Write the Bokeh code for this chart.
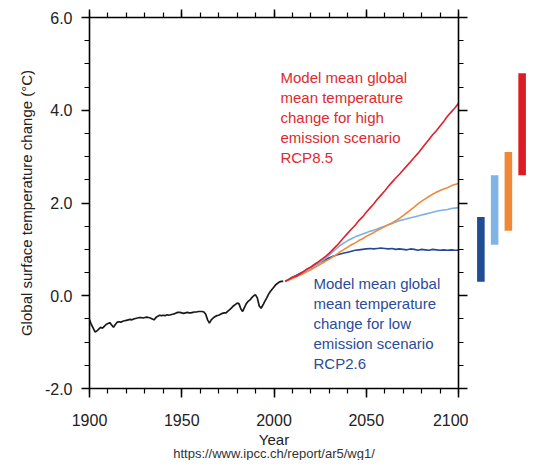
from bokeh.plotting import figure
from bokeh.models import (Range1d, FactorRange, LinearAxis, SingleIntervalTicker,
                          NumeralTickFormatter, Label, Title)
from bokeh.layouts import row
from bokeh.embed import file_html
from bokeh.resources import INLINE

# ---------------- data ----------------
hist_years = list(range(1900, 2006))
hist_temp = [
    -0.52, -0.62, -0.70, -0.78, -0.76, -0.72, -0.68, -0.70, -0.66, -0.62,
    -0.60, -0.58, -0.63, -0.68, -0.62, -0.57, -0.56, -0.57, -0.55, -0.54,
    -0.53, -0.52, -0.51, -0.52, -0.50, -0.49, -0.48, -0.47, -0.47, -0.48,
    -0.47, -0.46, -0.47, -0.48, -0.50, -0.52, -0.47, -0.44, -0.42, -0.43,
    -0.42, -0.43, -0.41, -0.42, -0.41, -0.40, -0.39, -0.37, -0.36, -0.36,
    -0.37, -0.38, -0.37, -0.36, -0.37, -0.37, -0.36, -0.35, -0.35, -0.34,
    -0.34, -0.34, -0.35, -0.40, -0.52, -0.59, -0.52, -0.48, -0.45, -0.43,
    -0.42, -0.40, -0.38, -0.37, -0.37, -0.33, -0.30, -0.26, -0.22, -0.19,
    -0.16, -0.17, -0.28, -0.34, -0.25, -0.17, -0.12, -0.09, -0.04, 0.00,
    0.02, -0.05, -0.22, -0.27, -0.20, -0.12, -0.05, 0.03, 0.09, 0.14,
    0.19, 0.24, 0.27, 0.30, 0.31, 0.31,
]

proj_years = list(range(2006, 2101, 2))
rcp85 = [0.31, 0.35, 0.40, 0.42, 0.47, 0.52, 0.58, 0.62, 0.68, 0.73,
         0.79, 0.85, 0.92, 1.00, 1.08, 1.17, 1.26, 1.35, 1.44, 1.52,
         1.62, 1.70, 1.80, 1.89, 1.98, 2.08, 2.17, 2.26, 2.36, 2.45,
         2.54, 2.62, 2.71, 2.80, 2.89, 2.98, 3.07, 3.17, 3.27, 3.37,
         3.47, 3.56, 3.66, 3.76, 3.87, 3.96, 4.05, 4.15]
rcp60 = [0.31, 0.34, 0.37, 0.41, 0.44, 0.48, 0.52, 0.56, 0.61, 0.65,
         0.70, 0.75, 0.79, 0.84, 0.89, 0.95, 1.00, 1.05, 1.10, 1.14,
         1.19, 1.23, 1.28, 1.32, 1.36, 1.41, 1.45, 1.49, 1.53, 1.57,
         1.62, 1.67, 1.73, 1.79, 1.85, 1.91, 1.98, 2.04, 2.09, 2.14,
         2.19, 2.23, 2.27, 2.30, 2.33, 2.37, 2.40, 2.42]
rcp45 = [0.31, 0.35, 0.39, 0.42, 0.46, 0.50, 0.55, 0.59, 0.64, 0.69,
         0.75, 0.81, 0.88, 0.95, 1.02, 1.09, 1.14, 1.19, 1.23, 1.27,
         1.30, 1.33, 1.36, 1.39, 1.41, 1.44, 1.47, 1.50, 1.53, 1.56,
         1.59, 1.62, 1.64, 1.66, 1.68, 1.70, 1.72, 1.74, 1.76, 1.78,
         1.80, 1.82, 1.84, 1.85, 1.86, 1.88, 1.89, 1.90]
rcp26 = [0.31, 0.35, 0.40, 0.44, 0.48, 0.52, 0.57, 0.61, 0.65, 0.70,
         0.74, 0.78, 0.82, 0.85, 0.88, 0.90, 0.92, 0.94, 0.96, 0.98,
         0.99, 1.00, 1.01, 1.02, 1.01, 1.02, 1.03, 1.02, 1.01, 1.02,
         1.00, 1.01, 1.00, 0.99, 1.01, 1.00, 0.98, 1.00, 0.99, 0.98,
         1.00, 0.99, 0.98, 0.99, 0.98, 0.99, 0.98, 0.98]

# likely ranges 2081-2100
scenarios = ["RCP2.6", "RCP4.5", "RCP6.0", "RCP8.5"]
range_low = [0.3, 1.1, 1.4, 2.6]
range_high = [1.7, 2.6, 3.1, 4.8]
bar_colors = ["#1f4c93", "#80b3e6", "#f08838", "#dc1c24"]

high_text = ["Model mean global", "mean temperature", "change for high",
             "emission scenario", "RCP8.5"]
low_text = ["Model mean global", "mean temperature", "change for low",
            "emission scenario", "RCP2.6"]

x_ticks_interval = 50
y_ticks_interval = 2

FONT = "Liberation Sans"

# ---------------- main plot ----------------
y_range = Range1d(-2, 6)
p = figure(x_range=Range1d(1900, 2100), y_range=y_range,
           frame_width=369, frame_height=371,
           min_border_left=89, min_border_right=10,
           min_border_top=17, min_border_bottom=72,
           output_backend="svg", toolbar_location=None,
           x_axis_location=None, y_axis_location=None,
           background_fill_color="white", border_fill_color="white")
p.outline_line_color = None
p.xgrid.visible = False
p.ygrid.visible = False

xt = SingleIntervalTicker(interval=x_ticks_interval, num_minor_ticks=5)
yt = SingleIntervalTicker(interval=y_ticks_interval, num_minor_ticks=4)


def style_axis(ax, labels=True):
    ax.axis_line_width = 1.6
    ax.axis_line_color = "black"
    ax.major_tick_line_width = 1.5
    ax.minor_tick_line_width = 1.2
    ax.major_tick_in = 0
    ax.minor_tick_in = 0
    ax.major_tick_out = 9
    ax.minor_tick_out = 5
    ax.major_label_text_font = FONT
    ax.major_label_text_color = "#222222"
    ax.axis_label_text_font = FONT
    ax.axis_label_text_font_style = "normal"
    ax.axis_label_text_color = "#222222"
    if not labels:
        ax.major_label_text_color = None
        ax.major_label_text_font_size = "1px"
        ax.major_label_standoff = 0


xb = LinearAxis(ticker=xt, axis_label="Year")
style_axis(xb)
xb.major_label_text_font_size = "16px"
xb.major_label_standoff = 16
xb.axis_label_text_font_size = "15px"
xb.axis_label_standoff = 2
p.add_layout(xb, "below")

yl = LinearAxis(ticker=yt, axis_label="Global surface temperature change (°C)",
                formatter=NumeralTickFormatter(format="0.0"))
style_axis(yl)
yl.major_tick_out = 8
yl.major_label_text_font_size = "16px"
yl.major_label_standoff = 9
yl.axis_label_text_font_size = "15px"
yl.axis_label_standoff = 7
p.add_layout(yl, "left")

xa = LinearAxis(ticker=xt)
style_axis(xa, labels=False)
xa.major_tick_out = 8
p.add_layout(xa, "above")

yr = LinearAxis(ticker=yt)
style_axis(yr, labels=False)
p.add_layout(yr, "right")

p.add_layout(Title(text="https://www.ipcc.ch/report/ar5/wg1/", align="center",
                   text_font=FONT, text_font_size="13px", text_font_style="normal",
                   text_color="#333333", standoff=-14), "below")

# lines
p.line(hist_years, hist_temp, line_color="#1a1a1a", line_width=1.7)
p.line(proj_years, rcp26, line_color="#24479a", line_width=1.6)
p.line(proj_years, rcp45, line_color="#7db0e3", line_width=1.6)
p.line(proj_years, rcp60, line_color="#ee8a3c", line_width=1.6)
p.line(proj_years, rcp85, line_color="#e0202a", line_width=1.6)

for i, t in enumerate(high_text):
    p.add_layout(Label(x=2003.5, y=4.9, y_offset=-20 * i, text=t,
                       text_font=FONT, text_font_size="15px", text_color="#dd2a30",
                       text_baseline="top", text_align="left"))
for i, t in enumerate(low_text):
    p.add_layout(Label(x=2021.4, y=0.45, y_offset=-20 * i, text=t,
                       text_font=FONT, text_font_size="15px", text_color="#2b4c97",
                       text_baseline="top", text_align="left"))

# ---------------- range bars ----------------
b = figure(x_range=FactorRange(factors=scenarios, range_padding=0.2), y_range=y_range,
           frame_width=66, frame_height=371,
           min_border_left=0, min_border_right=0,
           min_border_top=17, min_border_bottom=72,
           output_backend="svg", toolbar_location=None,
           x_axis_location=None, y_axis_location=None,
           background_fill_color="white", border_fill_color="white")
b.outline_line_color = None
b.xgrid.visible = False
b.ygrid.visible = False
b.vbar(x=scenarios, bottom=range_low, top=range_high, width=0.55,
       fill_color=bar_colors, line_color=None)

layout = row(p, b)
open("out.html", "w").write(file_html(layout, INLINE))
